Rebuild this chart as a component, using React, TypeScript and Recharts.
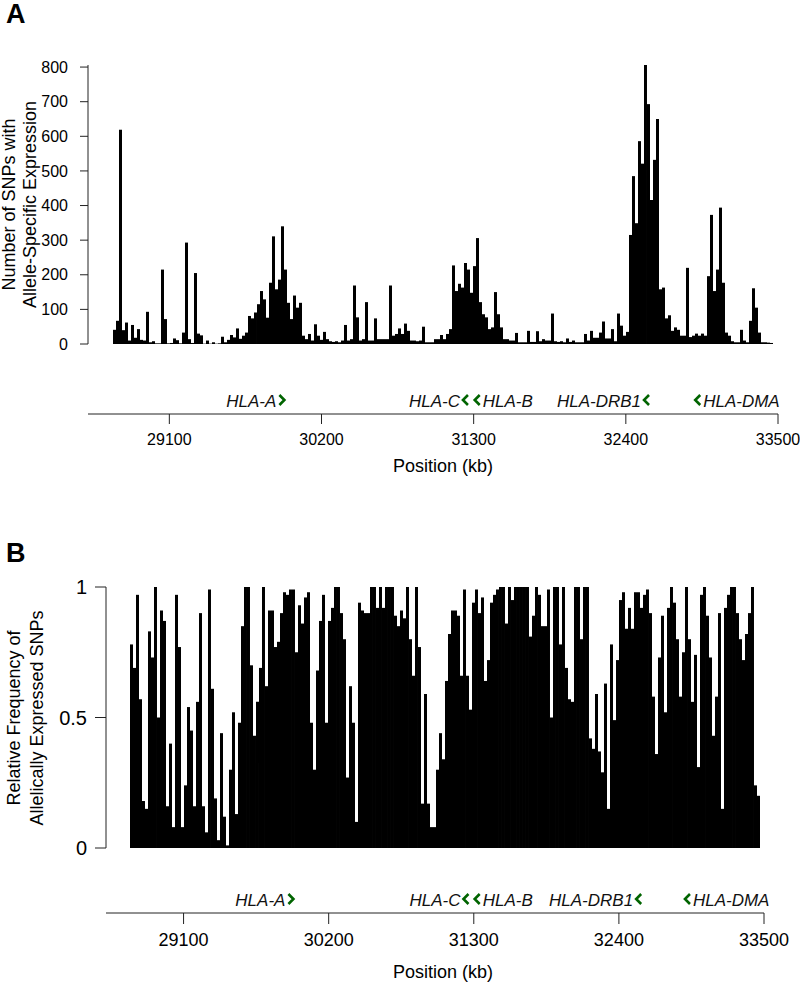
import { BarChart, Bar, XAxis, YAxis, ScatterChart, Scatter } from "recharts";

const FONT = "'Liberation Sans', Arial, sans-serif";

// Panel A: number of SNPs with allele-specific expression, one value per bin (28.69–33.46 Mb)
const snpCounts = [
  41, 67, 619, 40, 62, 10, 55, 18, 43, 12,
  10, 93, 5, 8, 2, 2, 215, 72, 2, 3,
  16, 11, 2, 33, 293, 14, 3, 205, 30, 25,
  1, 10, 1, 5, 1, 2, 21, 5, 12, 26,
  19, 45, 15, 24, 33, 81, 74, 91, 115, 153,
  129, 76, 177, 311, 158, 186, 340, 215, 119, 72,
  140, 105, 119, 24, 14, 29, 10, 57, 24, 12,
  35, 14, 8, 6, 8, 5, 10, 55, 10, 14,
  169, 77, 10, 14, 121, 10, 10, 74, 14, 14,
  14, 14, 169, 24, 29, 45, 29, 59, 38, 10,
  10, 8, 10, 50, 5, 5, 5, 14, 14, 26,
  14, 29, 43, 227, 153, 174, 163, 234, 215, 148,
  225, 306, 121, 86, 77, 43, 48, 150, 86, 48,
  14, 14, 10, 10, 32, 5, 5, 5, 38, 6,
  6, 37, 8, 14, 10, 10, 88, 8, 6, 8,
  5, 16, 6, 10, 5, 5, 5, 29, 10, 38,
  18, 18, 33, 65, 16, 16, 43, 8, 88, 53,
  24, 35, 315, 485, 349, 586, 521, 806, 693, 416,
  532, 650, 158, 163, 74, 83, 38, 48, 41, 24,
  24, 220, 20, 24, 30, 24, 30, 24, 196, 373,
  153, 215, 394, 177, 33, 24, 8, 5, 5, 41,
  10, 5, 67, 161, 105, 33, 5, 5, 4, 3,
];

// Panel B: relative frequency of allelically expressed SNPs, one value per bin
const relFreq = [
  0.78, 0.69, 0.97, 0.57, 0.18, 0.15, 0.83, 0.73, 1.0, 0.5,
  0.91, 0.87, 0.16, 0.4, 0.08, 0.97, 0.77, 0.08, 0.24, 0.54,
  0.45, 0.16, 0.56, 0.9, 0.16, 0.06, 0.99, 0.61, 0.19, 0.03,
  0.44, 0.12, 0.01, 0.3, 0.52, 0.13, 0.48, 0.85, 1.0, 1.0,
  0.7, 0.43, 0.56, 0.69, 1.0, 0.62, 0.91, 0.91, 0.77, 0.79,
  0.9, 0.98, 0.97, 0.99, 0.99, 0.75, 0.93, 0.86, 0.96, 0.98,
  0.48, 0.3, 0.68, 0.87, 0.97, 0.48, 0.87, 0.92, 1.0, 1.0,
  0.9, 0.8, 0.27, 0.62, 0.48, 0.1, 0.94, 0.91, 0.9, 0.9,
  1.0, 1.0, 0.92, 1.0, 0.92, 1.0, 1.0, 1.0, 0.89, 0.85,
  0.91, 0.88, 1.0, 0.8, 0.66, 1.0, 0.77, 0.17, 0.59, 0.17,
  0.08, 0.08, 0.3, 0.44, 0.34, 0.64, 0.82, 0.91, 0.91, 0.89,
  0.66, 0.99, 0.66, 0.53, 0.94, 0.99, 0.9, 0.96, 0.64, 0.72,
  0.94, 0.97, 0.99, 1.0, 1.0, 0.86, 1.0, 0.95, 1.0, 1.0,
  1.0, 1.0, 1.0, 0.81, 0.89, 1.0, 0.97, 0.85, 0.85, 0.99,
  0.5, 1.0, 1.0, 0.78, 1.0, 0.69, 0.57, 0.56, 1.0, 1.0,
  0.8, 1.0, 1.0, 0.42, 0.38, 0.59, 0.37, 0.29, 0.63, 0.15,
  0.78, 0.49, 0.72, 0.95, 0.98, 0.84, 0.92, 0.84, 0.98, 0.98,
  0.92, 0.97, 0.99, 0.9, 0.58, 0.36, 0.73, 0.89, 0.52, 0.92,
  1.0, 0.94, 0.8, 0.58, 0.75, 1.0, 0.8, 0.56, 0.74, 0.31,
  0.97, 1.0, 0.89, 0.73, 0.43, 0.58, 0.9, 0.15, 0.92, 0.97,
  1.0, 1.0, 0.9, 0.8, 0.72, 0.82, 0.9, 1.0, 0.24, 0.2,
];

const countTicks = [0, 100, 200, 300, 400, 500, 600, 700, 800];
const freqTicks = [0, 0.5, 1];
const posTicks = [29100, 30200, 31300, 32400, 33500];
const posDomain = [28512, 33500];

const geneNames = ["HLA-A", "HLA-C", "HLA-B", "HLA-DRB1", "HLA-DMA"];
const genePos = [29910, 31237, 31322, 32546, 32916];
const geneStrand = [1, -1, -1, -1, -1];
const geneLabelSide = ["left", "left", "right", "left", "right"];

const countData = snpCounts.map((v, i) => ({ bin: i, v }));
const freqData = relFreq.map((v, i) => ({ bin: i, v }));
const geneData = geneNames.map((name, i) => ({
  name,
  pos: genePos[i],
  y: 0,
  strand: geneStrand[i],
  side: geneLabelSide[i],
}));

function AxisTitle({ lines, xs, cy, size }: { lines: string[]; xs: number[]; cy: number; size: number }) {
  return (
    <g>
      {lines.map((t, i) => (
        <text
          key={t}
          x={xs[i]}
          y={cy}
          transform={`rotate(-90 ${xs[i]} ${cy})`}
          textAnchor="middle"
          fontSize={size}
          fontFamily={FONT}
          fill="#000"
        >
          {t}
        </text>
      ))}
    </g>
  );
}

function GeneMark(props: any) {
  const { cx, cy, payload } = props;
  const ay = cy - 14;
  const d =
    payload.strand > 0
      ? `M${cx - 2},${ay - 5}L${cx + 3},${ay}L${cx - 2},${ay + 5}`
      : `M${cx + 3},${ay - 5}L${cx - 2},${ay}L${cx + 3},${ay + 5}`;
  const left = payload.side === "left";
  return (
    <g>
      <path d={d} stroke="#006400" strokeWidth={2.6} fill="none" />
      <text
        x={left ? cx - 5 : cx + 6}
        y={cy - 7}
        textAnchor={left ? "end" : "start"}
        fontStyle="italic"
        fontSize={17}
        fontFamily={FONT}
        fill="#111"
      >
        {payload.name}
      </text>
    </g>
  );
}

function GeneTrack({ top, height, left, right, tickFont, tickSize, tickMargin, titleY }: any) {
  return (
    <div style={{ position: "absolute", left: 0, top, width: 800, height }}>
      <ScatterChart width={800} height={height} margin={{ top: 10, right, bottom: 16, left }}>
        <XAxis
          dataKey="pos"
          type="number"
          domain={posDomain}
          ticks={posTicks}
          interval={0}
          height={60}
          stroke="#222"
          tickSize={tickSize}
          tickMargin={tickMargin}
          tick={{ fontSize: tickFont, fill: "#000", fontFamily: FONT }}
          label={{
            content: () => (
              <text x={443} y={titleY} textAnchor="middle" fontSize={18} fontFamily={FONT} fill="#000">
                Position (kb)
              </text>
            ),
          }}
        />
        <YAxis dataKey="y" type="number" domain={[0, 1]} hide width={0} />
        <Scatter data={geneData} shape={GeneMark} isAnimationActive={false} />
      </ScatterChart>
    </div>
  );
}

export default function App() {
  return (
    <div style={{ position: "absolute", left: 0, top: 0, width: 800, height: 989, background: "#fff" }}>
      <div style={{ position: "absolute", left: 6, top: 1, fontFamily: FONT, fontWeight: "bold", fontSize: 27, lineHeight: 1 }}>
        A
      </div>
      <div style={{ position: "absolute", left: 6, top: 540, fontFamily: FONT, fontWeight: "bold", fontSize: 27, lineHeight: 1 }}>
        B
      </div>

      <div style={{ position: "absolute", left: 0, top: 0, width: 800, height: 360 }}>
        <BarChart
          width={800}
          height={360}
          data={countData}
          margin={{ top: 65, right: 22, bottom: 16, left: 0 }}
          barCategoryGap={0}
          barGap={0}
        >
          <XAxis dataKey="bin" hide padding={{ left: 25, right: 5 }} />
          <YAxis
            domain={[0, 800]}
            ticks={countTicks}
            interval={0}
            width={88}
            stroke="#222"
            tickSize={8}
            tickMargin={12}
            tick={{ fontSize: 16, fill: "#000", fontFamily: FONT }}
            label={{
              content: () => (
                <AxisTitle
                  lines={["Number of SNPs with", "Allele-Specific Expression"]}
                  xs={[14.5, 35.5]}
                  cy={204.5}
                  size={18}
                />
              ),
            }}
          />
          <Bar dataKey="v" fill="#000" barSize={2.99} isAnimationActive={false} />
        </BarChart>
      </div>

      <GeneTrack top={360} height={130} left={88} right={22} tickFont={16} tickSize={10} tickMargin={10} titleY={112} />

      <div style={{ position: "absolute", left: 0, top: 500, width: 800, height: 360 }}>
        <BarChart
          width={800}
          height={360}
          data={freqData}
          margin={{ top: 87, right: 36, bottom: 12, left: 0 }}
          barCategoryGap={0}
          barGap={0}
        >
          <XAxis dataKey="bin" hide padding={{ left: 24, right: 4 }} />
          <YAxis
            domain={[0, 1]}
            ticks={freqTicks}
            interval={0}
            width={106}
            stroke="#222"
            tickSize={11}
            tickMargin={8}
            tick={{ fontSize: 20, fill: "#000", fontFamily: FONT }}
            label={{
              content: () => (
                <AxisTitle
                  lines={["Relative Frequency of", "Allelically Expressed SNPs"]}
                  xs={[20, 43]}
                  cy={218}
                  size={18}
                />
              ),
            }}
          />
          <Bar dataKey="v" fill="#000" barSize={2.99} isAnimationActive={false} />
        </BarChart>
      </div>

      <GeneTrack top={860} height={129} left={106} right={36} tickFont={18} tickSize={11} tickMargin={9} titleY={118} />
    </div>
  );
}
